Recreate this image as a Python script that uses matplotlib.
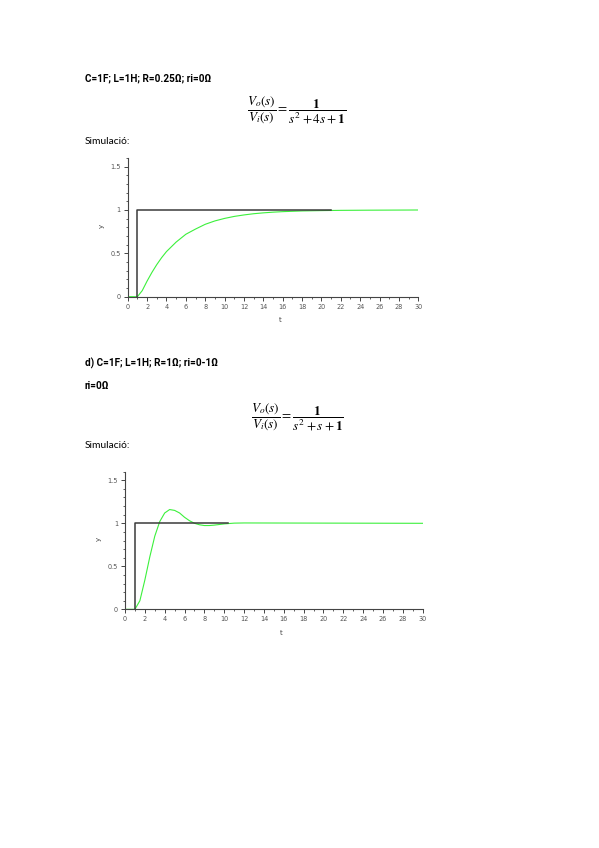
import matplotlib
matplotlib.use("Agg")
import matplotlib.pyplot as plt
from matplotlib.ticker import MultipleLocator

# ---- data -------------------------------------------------------------
# Circuit (c): R = 0.25 ohm, overdamped response
t_resp1 = [0, 1, 1.5, 2, 2.5, 3, 3.5, 4, 5, 6, 7, 8, 9, 10, 11, 12, 13, 14,
           15, 16, 18, 20, 22, 25, 30]
y_resp1 = [0, 0, 0.07, 0.18, 0.28, 0.37, 0.45, 0.52, 0.63, 0.72, 0.78, 0.835,
           0.874, 0.903, 0.926, 0.943, 0.957, 0.967, 0.975, 0.981, 0.989,
           0.993, 0.996, 0.998, 1.0]
t_step1 = [1, 1, 21]
y_step1 = [0, 1, 1]

# Circuit (d): R = 1 ohm, underdamped response
t_resp2 = [0, 1, 1.5, 2, 2.5, 3, 3.5, 4, 4.5, 5, 5.5, 6, 6.5, 7, 7.5, 8,
           8.5, 9, 10, 11, 12, 30]
y_resp2 = [0, 0, 0.10, 0.34, 0.61, 0.85, 1.02, 1.12, 1.16, 1.15, 1.12,
           1.07, 1.03, 1.0, 0.983, 0.974, 0.974, 0.979, 0.993, 1.002, 1.004,
           1.0]
t_step2 = [1, 1, 10.4]
y_step2 = [0, 1, 1]

x_ticks = list(range(0, 31, 2))
y_ticks = [0, 0.5, 1, 1.5]
y_tick_labels = ["0", "0.5", "1", "1.5"]

# ---- page -------------------------------------------------------------
W, H = 599, 848
fig = plt.figure(figsize=(W / 100, H / 100), dpi=100)
fig.patch.set_facecolor("white")

plt.rcParams["mathtext.fontset"] = "stix"
regular = dict(family=["Lato", "DejaVu Sans"], color="black")
bold = dict(family=["Roboto", "DejaVu Sans"], color="black",
            fontweight="bold")


def ptext(x, y, s, style, size=7.4):
    fig.text(x / W, 1 - y / H, s, va="center", ha="left", fontsize=size,
             **style)


ptext(85, 78, "C=1F; L=1H; R=0.25Ω; ri=0Ω", bold, 7.2)
fig.text(297 / W, 1 - 110 / H,
         r"$\dfrac{V_o(s)}{V_i(s)} = \dfrac{\mathbf{1}}{s^2+4s+\mathbf{1}}$",
         ha="center", va="center", fontsize=9.5)
ptext(85, 141, "Simulació:", regular)

ptext(85, 363, "d) C=1F; L=1H; R=1Ω; ri=0-1Ω", bold, 7.2)
ptext(85, 386, "ri=0Ω", bold, 7.2)
fig.text(297 / W, 1 - 417 / H,
         r"$\dfrac{V_o(s)}{V_i(s)} = \dfrac{\mathbf{1}}{s^2+s+\mathbf{1}}$",
         ha="center", va="center", fontsize=9.5)
ptext(85, 446, "Simulació:", regular)


def make_axes(x0, x1, y0px, unit_px, t_resp, y_resp, t_step, y_step,
              t_lbl_y, y_lbl_x):
    top = y0px - 1.6 * unit_px
    ax = fig.add_axes([x0 / W, 1 - y0px / H, (x1 - x0) / W, (y0px - top) / H])
    ax.plot(t_resp, y_resp, color="#3cf03c", lw=0.8, zorder=2)
    ax.plot(t_step, y_step, color="#3a3a3a", lw=1.1, zorder=3)
    ax.set_xlim(0, 30)
    ax.set_ylim(0, 1.6)
    for side in ("top", "right"):
        ax.spines[side].set_visible(False)
    for side in ("left", "bottom"):
        ax.spines[side].set_color("#444444")
        ax.spines[side].set_linewidth(0.8)
    ax.set_xticks(x_ticks)
    ax.set_yticks(y_ticks)
    ax.set_yticklabels(y_tick_labels)
    ax.xaxis.set_minor_locator(MultipleLocator(1))
    ax.yaxis.set_minor_locator(MultipleLocator(0.1))
    ax.tick_params(which="major", direction="out", length=3, width=0.7,
                   color="#444444", labelsize=4.7, labelcolor="#555555",
                   pad=2)
    ax.tick_params(which="minor", direction="out", length=1.6, width=0.6,
                   color="#444444")
    for lbl in ax.get_xticklabels() + ax.get_yticklabels():
        lbl.set_family("DejaVu Sans")
    fig.text(((x0 + x1) / 2 + 7) / W, 1 - t_lbl_y / H, "t", ha="center",
             va="center", fontsize=5, color="#444444")
    fig.text(y_lbl_x / W, 1 - (y0px - 0.82 * unit_px) / H, "y", ha="center",
             va="center", fontsize=5, color="#444444", rotation=90)
    return ax


make_axes(127.7, 418.3, 296.7, 86.7, t_resp1, y_resp1, t_step1, y_step1,
          320, 101.5)
make_axes(125.0, 422.7, 609.3, 86.0, t_resp2, y_resp2, t_step2, y_step2,
          633, 98.5)

fig.savefig("out.png", dpi=100, facecolor="white")
